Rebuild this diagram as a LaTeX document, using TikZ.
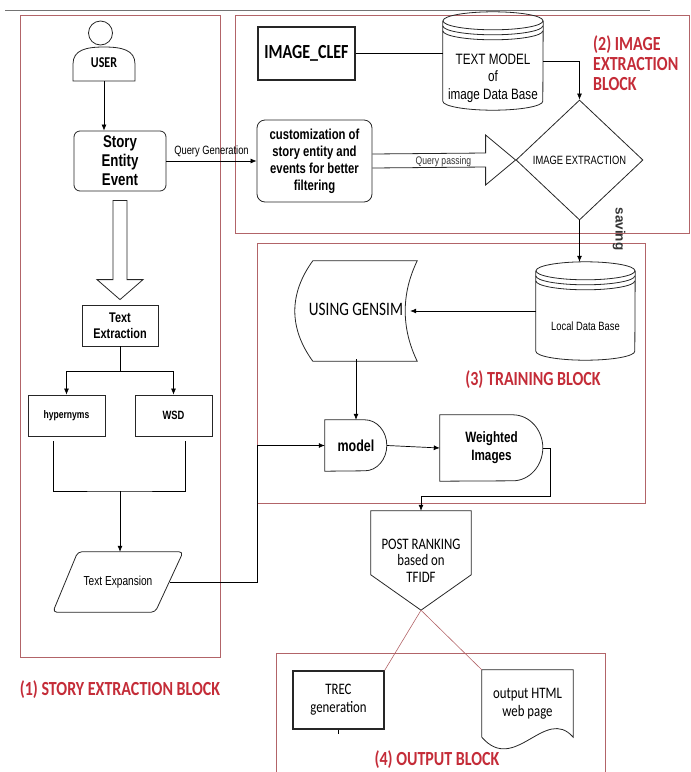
\documentclass[tikz,border=0pt]{standalone}
\usepackage{fontspec}
\setmainfont[FakeStretch=0.78]{Liberation Sans}
\newfontfamily\calib[FakeStretch=0.8]{Carlito}
\newfontfamily\widesans{Liberation Sans}
\usetikzlibrary{arrows.meta,shapes.geometric,calc}

\definecolor{blockred}{RGB}{178,100,104}
\definecolor{titlered}{RGB}{196,44,56}

\newcommand{\fsz}[2]{\fontsize{#1}{#2}\selectfont}

\newcommand{\drum}[2]{
\draw[box] ($(#1.north)+(0,9)$) ellipse[x radius=#2pt, y radius=9pt];
\draw[box] ($(#1.north west)+(0,9)$) -- ($(#1.south west)+(0,-9)$)
  arc[start angle=180, end angle=360, x radius=#2pt, y radius=9pt]
  -- ($(#1.north east)+(0,9)$);
\draw[box] ($(#1.north west)+(0,14)$) arc[start angle=180, end angle=360, x radius=#2pt, y radius=9pt];
\draw[box] ($(#1.north west)+(0,19)$) arc[start angle=180, end angle=360, x radius=#2pt, y radius=9pt];
}

\begin{document}
\begin{tikzpicture}[x=1pt, y=-1pt,
  box/.style={draw=black!85, line width=0.8pt, align=center, inner sep=1pt},
  plain/.style={align=center, inner sep=0pt},
  blockframe/.style={draw=blockred, line width=0.7pt},
  blocktitle/.style={text=titlered, align=left, inner sep=0pt, font=\calib\bfseries\fsz{20}{20}},
  arr/.style={-{Latex[length=6pt,width=5pt]}, line width=0.7pt},
  line/.style={line width=0.7pt},
  hollow/.style={draw=black!85, line width=0.8pt, line join=miter}]

\useasboundingbox (0,0) rectangle (691,772);
\draw[black!55, line width=1pt] (5,10) -- (650,10);

\draw[blockframe] (20,15) rectangle (220,657);
\draw[blockframe] (235,15) rectangle (689.5,233);
\draw[blockframe] (257,243) rectangle (645,503);
\draw[blockframe] (276,772) -- (276,653) -- (605,653) -- (605,772);

\node[plain, minimum width=62pt, minimum height=36pt, font=\calib\bfseries\fsz{15}{15}] (user) at (104,63) {USER};
\node[box, rounded corners=6pt, minimum width=92pt, minimum height=60pt, inner sep=0pt, font=\bfseries\fsz{17}{19}] (story) at (120,161) {Story\\Entity\\Event};
\node[box, minimum width=76pt, minimum height=41pt, font=\bfseries\fsz{14}{16}] (textext) at (120,325.5) {Text\\Extraction};
\node[box, minimum width=77pt, minimum height=41pt, font=\bfseries\fsz{11}{13}] (hyper) at (66.5,415.5) {hypernyms};
\node[box, minimum width=77pt, minimum height=41pt, font=\bfseries\fsz{12}{13}] (wsd) at (173.5,415.5) {WSD};
\node[plain, minimum width=130pt, minimum height=60pt, font=\fsz{13}{15}] (textexp) at (118,582) {Text Expansion};

\node[box, rounded corners=8pt, minimum width=115pt, minimum height=82pt, font=\bfseries\fsz{14.5}{17}] (custom) at (314.5,161) {customization of\\story entity and\\events for better\\filtering};
\node[box, line width=1.3pt, minimum width=97pt, minimum height=53pt, font=\calib\bfseries\fsz{20}{20}] (clef) at (306.5,53.5) {IMAGE\_CLEF};
\node[plain, minimum width=100pt, minimum height=98pt, label={[font=\fsz{15}{17.5}, align=center, yshift=-17pt]center:{TEXT MODEL\\of\\image Data Base}}] (textdb) at (493,61) {};
\node[box, diamond, minimum width=127pt, minimum height=120pt, inner sep=0pt, font=\fsz{12}{12}] (extract) at (579.5,160) {IMAGE EXTRACTION};

\node[plain, minimum width=99pt, minimum height=98pt, label={[font=\fsz{12}{12}, yshift=-15pt]center:Local Data Base}] (localdb) at (585.5,311) {};
\node[plain, minimum width=122pt, minimum height=100pt, font=\calib\fsz{19}{19}] (gensim) at (356,309) {USING GENSIM};
\node[plain, minimum width=62pt, minimum height=51pt, font=\bfseries\fsz{16}{16}] (model) at (356,445.5) {model};
\node[plain, minimum width=103pt, minimum height=66pt, font=\bfseries\fsz{15}{18}] (weighted) at (491.5,448) {Weighted\\Images};

\node[plain, minimum width=100pt, minimum height=99pt, font=\calib\fsz{16}{16.5}] (post) at (421,560.5) {POST RANKING\\based on\\TFIDF};
\node[box, line width=1.3pt, minimum width=91pt, minimum height=58pt, font=\calib\fsz{16}{18}] (trec) at (338.5,700) {TREC\\generation};
\node[plain, minimum width=91pt, minimum height=67pt, font=\calib\fsz{16}{18}] (htmlpage) at (527.5,703.5) {output HTML\\web page};

\node[blocktitle] (title1) at (120,690) {(1) STORY EXTRACTION BLOCK};
\node[blocktitle, anchor=west] (title2) at (593,63) {(2) IMAGE\\EXTRACTION\\BLOCK};
\node[blocktitle] (title3) at (533,380) {(3) TRAINING BLOCK};
\node[blocktitle] (title4) at (437,760) {(4) OUTPUT BLOCK};

\draw[box] (100.5,33) circle[radius=12pt];
\draw[box] (73,81) -- (73,64) .. controls (73,50) and (86,47) .. (104,47) .. controls (122,47) and (135,50) .. (135,64) -- (135,81) -- cycle;

\draw[box, rounded corners=4pt] (textexp.south west) -- ($(textexp.north west)+(25,0)$) -- (textexp.north east) -- ($(textexp.south east)+(-28,0)$) -- cycle;

\drum{textdb}{50}
\drum{localdb}{49.5}

\draw[box] ($(gensim.north west)+(18,2)$) -- ($(gensim.north east)+(0,2)$) .. controls ($(gensim.north east)+(-16,35)$) and ($(gensim.south east)+(-16,-31)$) .. ($(gensim.south east)+(0,2)$) -- ($(gensim.south west)+(18,2)$) .. controls ($(gensim.south west)+(-6,-31)$) and ($(gensim.north west)+(-6,35)$) .. ($(gensim.north west)+(18,2)$) -- cycle;
\draw[box] (model.north west) -- ++(40,0) arc[start angle=90, end angle=-90, x radius=22pt, y radius=25.5pt] -- (model.south west) -- cycle;
\draw[box] (weighted.north west) -- ++(73,0) arc[start angle=90, end angle=-90, x radius=30pt, y radius=33pt] -- (weighted.south west) -- cycle;
\draw[box] (post.north west) -- (post.north east) -- ($(post.north east)+(0,64)$) -- (post.south) -- ($(post.north west)+(0,64)$) -- cycle;
\draw[box] (htmlpage.south west) -- (htmlpage.north west) -- (htmlpage.north east) -- (htmlpage.south east) .. controls ($(htmlpage.south east)+(-28,-32)$) and ($(htmlpage.south west)+(33,38)$) .. (htmlpage.south west) -- cycle;
\draw[line] (trec.south) -- ++(0,4);

\draw[arr] (user.south) -- (user.south |- story.north);
\draw[arr] (story.east) -- node[above, font=\fsz{12}{12}] (qgen) {Query Generation} (custom.west);
\draw[hollow] ($(story.south)+(-7,9)$) -- ($(textext.north)+(-7,-25)$) -- ($(textext.north)+(-23,-25)$) -- ($(textext.north)+(0,-5)$) -- ($(textext.north)+(23,-25)$) -- ($(textext.north)+(7,-25)$) -- ($(story.south)+(7,9)$) -- cycle;
\draw[arr] (textext.south) -- ++(0,25) -| (hyper.north);
\draw[arr] (textext.south) -- ++(0,25) -| (wsd.north);
\coordinate (merge) at (120,491);
\draw[line] ($(hyper.south)+(-13.5,5)$) |- (merge) -| ($(wsd.south)+(11.5,5)$);
\draw[arr] (merge) -- (merge |- textexp.north);
\draw[arr] ($(textexp.east)+(-13,0)$) -- ++(87,0) |- (model.west);

\draw[line] (clef.east) -- (clef.east -| textdb.west);
\draw[arr] (textdb.east) -| (extract.north);
\draw[hollow] ($(custom.east)+(0,-7)$) -- ($(extract.west)+(-30,-7)$) -- ($(extract.west)+(-30,-25)$) -- (extract.west) -- ($(extract.west)+(-30,25)$) -- ($(extract.west)+(-30,7)$) -- ($(custom.east)+(0,7)$);
\node[font=\fsz{11}{11}, text=black!80, inner sep=0pt] (qpass) at ($(custom.east)+(71,1)$) {Query passing};
\draw[arr] (extract.south) -- (extract.south |- localdb.north);
\node[rotate=-90, font=\widesans\bfseries\fsz{13.5}{13.5}, text=black!80] (saving) at (619,229) {saving};

\draw[arr] (localdb.west) -- ($(gensim.east)+(-7,2)$);
\draw[arr] (gensim.south) -- (model.north);
\draw[arr] (model.east) -- (weighted.west);
\draw[arr] (weighted.east) -- ++(7,0) -- ++(0,48) -| (post.north);
\draw[blockred, line width=0.6pt] (post.south) -- (trec.north east);
\draw[blockred, line width=0.6pt] (post.south) -- (htmlpage.north west);

\end{tikzpicture}
\end{document}
